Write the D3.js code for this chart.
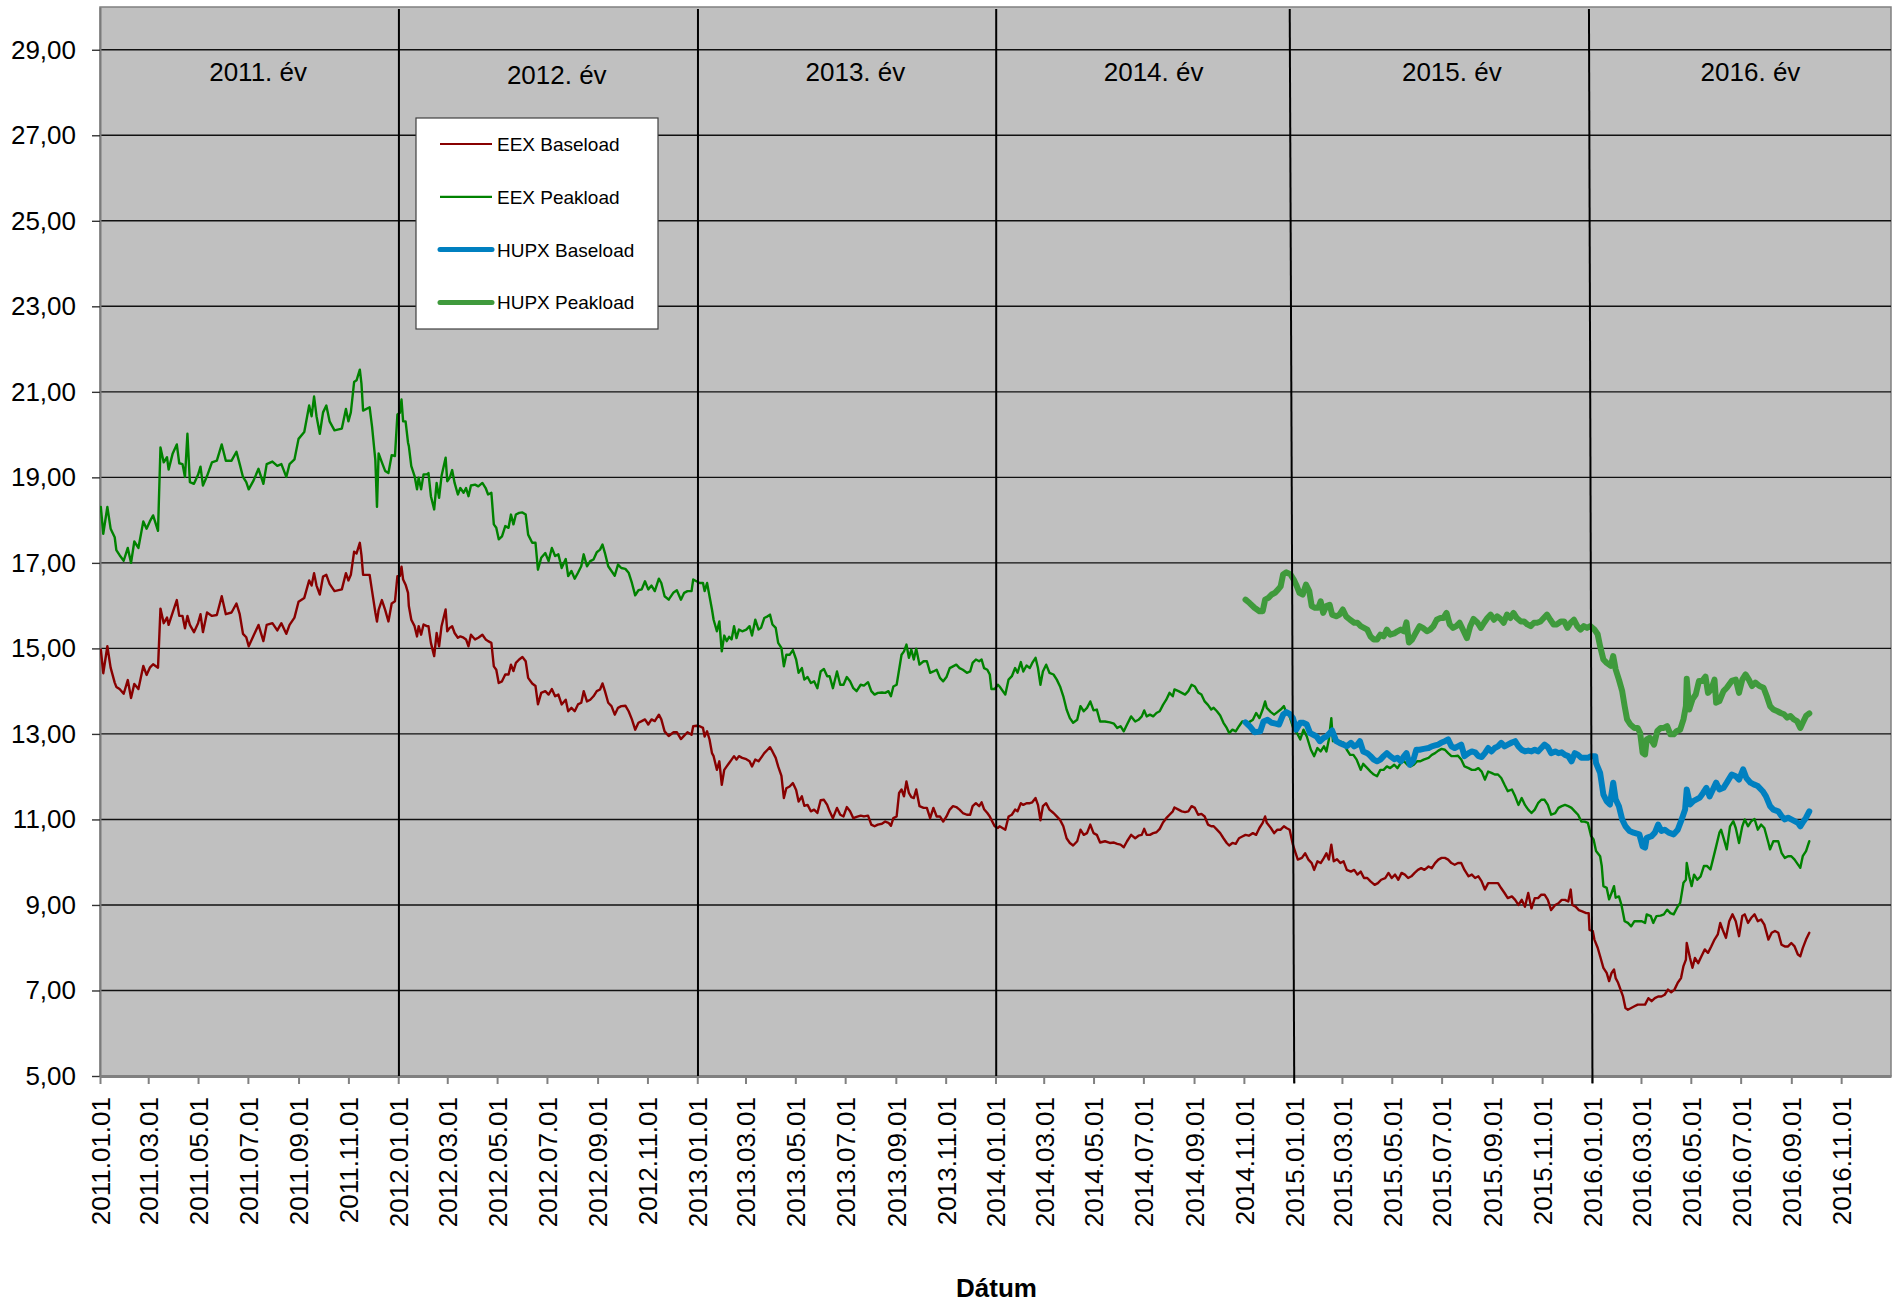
<!DOCTYPE html>
<html>
<head>
<meta charset="utf-8">
<script src="https://cdn.jsdelivr.net/npm/d3@7"></script>
<style>
    body { margin: 0; background: #ffffff; }
    svg { display: block; font-family: "Liberation Sans", Arial, Helvetica, sans-serif; }
</style>
</head>
<body>
<div id="chart"></div>
<script>
// points are [days since 2011.01.01, price]
var eexBaseload = [
    [1,14.97],[4,14.42],[9,15.05],[13,14.55],[18,14.2],[20,14.1],[24,14.05],[29,13.94],[34,14.26],[38,13.84],[42,14.17],[47,14.05],[53,14.59],[57,14.38],[61,14.55],[65,14.63],[71,14.55],[74,15.93],[78,15.59],[82,15.72],[84,15.55],[89,15.84],[94,16.13],[97,15.76],[101,15.76],[104,15.47],[107,15.76],[110,15.55],[115,15.38],[120,15.59],[123,15.8],[126,15.38],[131,15.84],[137,15.76],[143,15.78],[149,16.22],[154,15.8],[161,15.84],[167,16.05],[171,15.8],[175,15.34],[179,15.26],[182,15.05],[188,15.3],[194,15.55],[200,15.17],[204,15.55],[211,15.59],[217,15.42],[222,15.59],[228,15.34],[232,15.55],[238,15.72],[243,16.09],[250,16.18],[256,16.59],[259,16.47],[262,16.76],[265,16.47],[269,16.26],[273,16.68],[277,16.72],[281,16.51],[287,16.34],[296,16.38],[301,16.76],[304,16.59],[307,16.72],[311,17.26],[314,17.22],[318,17.47],[320,17.18],[322,16.72],[330,16.72],[333,16.34],[337,15.84],[339,15.63],[341,15.9],[345,16.13],[349,15.9],[353,15.63],[357,16.05],
    [361,16.1],[364,16.69],[367,16.69],[369,16.91],[371,16.61],[374,16.49],[377,16.3],[378,15.99],[381,15.67],[385,15.52],[388,15.28],[390,15.52],[393,15.32],[396,15.56],[400,15.52],[402,15.52],[405,15.13],[409,14.82],[412,15.36],[415,15.05],[418,15.52],[423,15.91],[425,15.4],[428,15.48],[431,15.52],[434,15.36],[438,15.25],[441,15.28],[445,15.25],[448,15.21],[451,15.05],[454,15.32],[459,15.21],[463,15.25],[468,15.32],[472,15.21],[475,15.17],[479,15.13],[482,14.58],[485,14.5],[488,14.19],[492,14.23],[496,14.39],[500,14.39],[503,14.62],[506,14.47],[509,14.66],[513,14.74],[517,14.8],[521,14.7],[524,14.31],[529,14.18],[533,14.12],[536,13.69],[540,13.96],[545,14.0],[549,13.92],[553,14.05],[557,13.88],[561,13.92],[565,13.69],[570,13.8],[573,13.53],[577,13.61],[581,13.53],[585,13.69],[589,13.73],[592,14.0],[596,13.76],[600,13.8],[604,13.88],[608,14.0],[612,14.04],[615,14.18],[618,14.0],[622,13.73],[626,13.65],[630,13.45],[634,13.61],[638,13.65],[643,13.66],[647,13.53],[651,13.34],[655,13.1],[659,13.26],[663,13.3],[667,13.34],[671,13.22],[675,13.34],[679,13.3],[684,13.45],[687,13.34],[691,13.06],[696,12.95],[702,13.04],[706,13.04],[711,12.88],[715,12.96],[719,13.04],[724,12.98],[726,13.18],[730,13.19],[734,13.18],[738,13.14],
    [740,12.94],[743,13.06],[746,12.87],[749,12.55],[751,12.48],[755,12.16],[758,12.36],[761,11.81],[764,12.16],[767,12.24],[770,12.32],[773,12.4],[776,12.48],[779,12.4],[782,12.48],[786,12.44],[791,12.41],[795,12.36],[798,12.24],[802,12.4],[806,12.36],[809,12.44],[813,12.55],[817,12.63],[820,12.69],[823,12.59],[827,12.44],[830,12.24],[834,12.02],[837,11.5],[840,11.73],[844,11.77],[848,11.85],[852,11.69],[855,11.42],[859,11.54],[862,11.32],[866,11.34],[870,11.19],[874,11.23],[878,11.15],[882,11.45],[886,11.46],[890,11.34],[893,11.19],[897,11.03],[902,11.27],[906,11.11],[910,11.07],[914,11.29],[918,11.19],[922,11.03],[926,11.06],[931,11.09],[935,11.07],[940,11.09],[944,10.88],[948,10.84],[952,10.88],[957,10.9],[961,10.95],[965,10.92],[968,10.85],[971,11.03],[975,11.07],[978,11.62],[981,11.7],[984,11.54],[987,11.89],[990,11.62],[993,11.52],[996,11.5],[999,11.7],[1003,11.31],[1008,11.27],[1012,11.27],[1016,11.03],[1020,11.27],[1024,11.07],[1028,11.07],[1032,10.95],[1036,11.07],[1040,11.23],[1044,11.31],[1048,11.29],[1052,11.23],[1056,11.15],[1061,11.11],[1065,11.11],[1068,11.31],[1072,11.38],[1076,11.31],[1079,11.4],[1082,11.24],[1086,11.15],[1089,11.07],[1091,10.99],[1095,10.84],[1099,10.8],
    [1101,10.84],[1108,10.76],[1112,11.07],[1116,11.11],[1120,11.23],[1123,11.19],[1127,11.38],[1130,11.34],[1134,11.38],[1138,11.38],[1141,11.4],[1145,11.5],[1148,11.34],[1151,10.98],[1154,11.31],[1158,11.38],[1162,11.23],[1167,11.15],[1171,11.07],[1175,10.99],[1179,10.84],[1183,10.56],[1187,10.45],[1191,10.39],[1196,10.49],[1200,10.76],[1204,10.64],[1208,10.68],[1212,10.88],[1216,10.68],[1220,10.64],[1224,10.46],[1230,10.49],[1236,10.45],[1241,10.46],[1245,10.43],[1249,10.41],[1253,10.35],[1257,10.49],[1262,10.64],[1267,10.56],[1271,10.62],[1275,10.64],[1278,10.78],[1281,10.64],[1285,10.64],[1289,10.68],[1293,10.7],[1297,10.78],[1301,10.93],[1305,11.03],[1309,11.11],[1313,11.19],[1315,11.28],[1320,11.23],[1324,11.19],[1328,11.17],[1332,11.19],[1336,11.31],[1340,11.27],[1344,11.11],[1348,11.13],[1352,11.07],[1356,10.88],[1360,10.84],[1363,10.84],[1367,10.76],[1371,10.68],[1375,10.56],[1379,10.45],[1382,10.39],[1386,10.45],[1390,10.43],[1394,10.56],[1398,10.6],[1402,10.64],[1406,10.62],[1411,10.68],[1415,10.64],[1419,10.8],[1423,10.92],[1426,11.07],[1428,10.92],[1433,10.8],[1437,10.68],[1441,10.76],[1445,10.76],[1449,10.84],[1452,10.8],[1456,10.76],
    [1460,10.41],[1462,10.29],[1466,10.06],[1471,10.1],[1475,10.21],[1479,10.06],[1483,9.98],[1486,9.82],[1490,10.02],[1494,9.98],[1498,10.1],[1501,10.21],[1504,10.06],[1507,10.41],[1510,10.02],[1514,10.07],[1518,9.98],[1522,10.02],[1526,9.82],[1531,9.78],[1535,9.82],[1539,9.71],[1543,9.78],[1547,9.63],[1551,9.63],[1555,9.55],[1560,9.47],[1564,9.51],[1568,9.59],[1573,9.63],[1577,9.75],[1581,9.63],[1585,9.71],[1589,9.59],[1593,9.75],[1597,9.71],[1601,9.63],[1605,9.67],[1609,9.75],[1613,9.82],[1617,9.86],[1621,9.82],[1626,9.9],[1630,9.86],[1634,9.98],[1638,10.06],[1642,10.1],[1646,10.1],[1650,10.06],[1654,9.98],[1658,9.94],[1662,9.98],[1666,9.98],[1670,9.82],[1675,9.67],[1679,9.71],[1683,9.63],[1687,9.67],[1691,9.55],[1695,9.36],[1699,9.51],[1703,9.51],[1707,9.51],[1711,9.51],[1715,9.39],[1719,9.28],[1723,9.16],[1728,9.2],[1732,9.12],[1736,9.0],[1740,9.12],[1744,8.96],[1748,9.28],[1752,8.92],[1756,9.16],[1760,9.16],[1764,9.24],[1768,9.24],[1772,9.12],[1776,8.88],[1781,9.0],[1785,9.04],[1789,9.12],[1793,9.12],[1797,9.08],[1800,9.36],[1802,9.0],[1806,8.96],[1810,8.88],[1814,8.85],[1819,8.81],[1822,8.81],
    [1823,8.42],[1827,8.39],[1829,8.19],[1833,8.0],[1836,7.8],[1840,7.53],[1844,7.41],[1847,7.22],[1850,7.41],[1853,7.49],[1855,7.29],[1858,7.18],[1861,7.02],[1864,6.86],[1867,6.59],[1870,6.55],[1874,6.59],[1878,6.63],[1882,6.67],[1887,6.67],[1891,6.67],[1895,6.82],[1899,6.75],[1903,6.82],[1907,6.86],[1911,6.86],[1915,6.9],[1919,7.02],[1923,6.96],[1927,7.02],[1931,7.18],[1935,7.29],[1938,7.57],[1941,7.72],[1942,8.11],[1946,7.76],[1949,7.53],[1952,7.76],[1956,7.64],[1960,7.8],[1964,7.96],[1968,7.88],[1972,8.03],[1976,8.19],[1980,8.31],[1983,8.58],[1986,8.42],[1990,8.23],[1994,8.62],[1998,8.78],[2002,8.62],[2006,8.27],[2010,8.74],[2013,8.78],[2017,8.58],[2021,8.7],[2025,8.78],[2029,8.62],[2033,8.66],[2037,8.54],[2042,8.19],[2046,8.35],[2050,8.39],[2054,8.35],[2058,8.07],[2062,8.03],[2066,8.03],[2070,8.11],[2074,8.03],[2078,7.84],[2081,7.8],[2084,7.99],[2088,8.19],[2092,8.35]
];

var eexPeakload = [
    [1,18.31],[4,17.68],[9,18.31],[13,17.8],[18,17.6],[20,17.3],[24,17.18],[29,17.05],[34,17.35],[38,17.0],[42,17.5],[47,17.35],[53,17.97],[57,17.8],[61,17.97],[65,18.11],[71,17.75],[74,19.7],[78,19.35],[82,19.47],[84,19.18],[89,19.56],[94,19.77],[97,19.33],[101,19.31],[104,19.01],[107,20.02],[110,18.89],[115,18.85],[120,19.06],[123,19.25],[126,18.81],[131,19.03],[137,19.35],[143,19.39],[149,19.77],[154,19.39],[161,19.39],[167,19.6],[171,19.31],[175,19.01],[179,18.89],[182,18.72],[188,18.93],[194,19.2],[200,18.85],[204,19.31],[211,19.37],[217,19.27],[222,19.31],[228,19.01],[232,19.31],[238,19.42],[243,19.9],[250,20.06],[256,20.68],[259,20.43],[262,20.89],[265,20.43],[269,20.02],[273,20.52],[277,20.68],[281,20.31],[287,20.1],[296,20.14],[301,20.6],[304,20.31],[307,20.52],[311,21.23],[314,21.27],[318,21.52],[320,21.19],[322,20.56],[330,20.64],[333,20.18],[337,19.4],[339,18.31],[341,19.56],[345,19.35],[349,19.15],[353,19.1],[357,19.52],
    [361,19.5],[364,20.47],[367,20.51],[369,20.82],[371,20.31],[374,20.31],[377,19.81],[378,19.73],[381,19.26],[385,19.03],[388,18.72],[390,18.99],[393,18.72],[396,19.07],[400,19.07],[402,19.1],[405,18.56],[409,18.25],[412,18.87],[415,18.52],[418,19.03],[423,19.46],[425,18.91],[428,18.99],[431,19.17],[434,18.87],[438,18.6],[441,18.75],[445,18.64],[448,18.75],[451,18.56],[454,18.81],[459,18.83],[463,18.79],[468,18.87],[472,18.75],[475,18.6],[479,18.64],[482,17.9],[485,17.82],[488,17.55],[492,17.62],[496,17.86],[500,17.82],[503,18.13],[506,17.9],[509,18.13],[513,18.17],[517,18.18],[521,18.13],[524,17.66],[529,17.47],[533,17.47],[536,16.84],[540,17.12],[545,17.23],[549,17.04],[553,17.35],[557,17.16],[561,17.2],[565,16.88],[570,17.09],[573,16.69],[577,16.81],[581,16.63],[585,16.77],[589,16.92],[592,17.2],[596,16.92],[600,17.04],[604,17.08],[608,17.25],[612,17.31],[615,17.43],[618,17.23],[622,16.92],[626,16.81],[630,16.7],[634,16.96],[638,16.88],[643,16.86],[647,16.77],[651,16.53],[655,16.24],[659,16.36],[663,16.38],[667,16.57],[671,16.38],[675,16.47],[679,16.34],[684,16.63],[687,16.53],[691,16.22],[696,16.14],[702,16.31],[706,16.36],[711,16.14],[715,16.3],[719,16.34],[724,16.34],[726,16.61],[730,16.57],[734,16.53],[738,16.53],
    [740,16.34],[743,16.53],[746,16.22],[749,15.91],[751,15.67],[755,15.4],[758,15.63],[761,14.93],[764,15.3],[767,15.17],[770,15.27],[773,15.21],[776,15.52],[779,15.24],[782,15.44],[786,15.4],[791,15.44],[795,15.52],[798,15.3],[802,15.67],[806,15.44],[809,15.48],[813,15.71],[817,15.75],[820,15.79],[823,15.56],[827,15.48],[830,15.13],[834,15.01],[837,14.58],[840,14.85],[844,14.85],[848,14.96],[852,14.74],[855,14.43],[859,14.54],[862,14.27],[866,14.33],[870,14.19],[874,14.23],[878,14.07],[882,14.46],[886,14.52],[890,14.35],[893,14.35],[897,14.07],[902,14.46],[906,14.15],[910,14.15],[914,14.33],[918,14.23],[922,14.07],[926,14.0],[931,14.15],[935,14.13],[940,14.21],[944,14.0],[948,13.92],[952,13.96],[957,13.97],[961,13.96],[965,14.0],[968,13.88],[971,14.11],[975,14.15],[978,14.5],[981,14.85],[984,14.93],[987,15.09],[990,14.78],[993,14.97],[996,14.74],[999,14.99],[1003,14.62],[1008,14.7],[1012,14.7],[1016,14.43],[1020,14.46],[1024,14.5],[1028,14.31],[1032,14.23],[1036,14.33],[1040,14.54],[1044,14.58],[1048,14.62],[1052,14.54],[1056,14.5],[1061,14.43],[1065,14.46],[1068,14.66],[1072,14.74],[1076,14.7],[1079,14.74],[1082,14.54],[1086,14.5],[1089,14.39],[1091,14.05],[1095,14.05],[1099,14.15],
    [1101,14.11],[1108,13.92],[1112,14.27],[1116,14.35],[1120,14.54],[1123,14.43],[1127,14.68],[1130,14.46],[1134,14.6],[1138,14.54],[1141,14.66],[1145,14.78],[1148,14.54],[1151,14.15],[1154,14.46],[1158,14.62],[1162,14.43],[1167,14.39],[1171,14.27],[1175,14.11],[1179,13.88],[1183,13.57],[1187,13.37],[1191,13.26],[1196,13.33],[1200,13.65],[1204,13.53],[1208,13.61],[1212,13.76],[1216,13.55],[1220,13.57],[1224,13.29],[1230,13.29],[1236,13.27],[1241,13.24],[1245,13.14],[1249,13.18],[1253,13.06],[1257,13.22],[1262,13.41],[1267,13.29],[1271,13.33],[1275,13.41],[1278,13.55],[1281,13.41],[1285,13.45],[1289,13.41],[1293,13.49],[1297,13.53],[1301,13.68],[1305,13.8],[1309,13.96],[1313,13.88],[1315,14.04],[1320,14.0],[1324,13.96],[1328,13.92],[1332,14.0],[1336,14.15],[1340,14.11],[1344,13.97],[1348,13.92],[1352,13.76],[1356,13.68],[1360,13.57],[1363,13.61],[1367,13.53],[1371,13.43],[1375,13.26],[1379,13.14],[1382,13.02],[1386,13.1],[1390,13.06],[1394,13.18],[1398,13.29],[1402,13.29],[1406,13.27],[1411,13.33],[1415,13.49],[1419,13.37],[1423,13.57],[1426,13.76],[1428,13.61],[1433,13.51],[1437,13.45],[1441,13.51],[1445,13.57],[1449,13.65],[1452,13.49],[1456,13.41],
    [1461,13.1],[1465,13.02],[1469,12.87],[1473,13.1],[1477,12.94],[1482,12.63],[1486,12.48],[1490,12.67],[1494,12.59],[1498,12.71],[1501,12.59],[1504,12.87],[1507,13.37],[1509,12.83],[1513,12.87],[1517,12.83],[1522,12.79],[1526,12.63],[1530,12.51],[1534,12.51],[1538,12.4],[1543,12.16],[1546,12.3],[1551,12.2],[1555,12.12],[1559,12.05],[1563,12.01],[1567,12.16],[1571,12.16],[1575,12.24],[1579,12.2],[1584,12.28],[1588,12.2],[1592,12.32],[1596,12.36],[1600,12.28],[1604,12.24],[1608,12.28],[1612,12.36],[1616,12.36],[1620,12.4],[1626,12.44],[1630,12.51],[1634,12.55],[1638,12.61],[1642,12.65],[1646,12.63],[1650,12.55],[1654,12.48],[1658,12.48],[1662,12.49],[1666,12.4],[1670,12.24],[1675,12.2],[1679,12.16],[1683,12.16],[1687,12.2],[1691,12.12],[1695,11.93],[1699,12.12],[1703,12.09],[1707,12.05],[1711,12.05],[1715,11.97],[1719,11.81],[1723,11.66],[1728,11.7],[1732,11.54],[1736,11.34],[1740,11.5],[1744,11.34],[1748,11.23],[1752,11.15],[1756,11.23],[1760,11.38],[1764,11.46],[1768,11.46],[1772,11.34],[1776,11.11],[1781,11.15],[1785,11.27],[1789,11.31],[1793,11.34],[1797,11.31],[1801,11.27],[1805,11.19],[1809,11.11],[1813,10.95],[1817,10.95],[1821,10.92],
    [1825,10.61],[1828,10.53],[1831,10.26],[1836,10.14],[1838,9.91],[1840,9.44],[1844,9.4],[1847,9.13],[1850,9.28],[1853,9.44],[1855,9.17],[1859,9.2],[1862,9.01],[1866,8.62],[1870,8.58],[1874,8.5],[1878,8.62],[1882,8.62],[1887,8.62],[1891,8.58],[1893,8.78],[1898,8.74],[1901,8.58],[1905,8.74],[1910,8.75],[1914,8.78],[1918,8.89],[1922,8.81],[1926,8.78],[1930,8.93],[1934,9.05],[1938,9.52],[1941,9.59],[1942,9.98],[1945,9.67],[1948,9.44],[1951,9.71],[1955,9.59],[1959,9.67],[1963,9.91],[1967,9.91],[1971,9.83],[1974,10.06],[1978,10.37],[1982,10.69],[1984,10.76],[1987,10.57],[1991,10.3],[1995,10.84],[1999,10.96],[2002,10.8],[2006,10.45],[2010,10.84],[2013,11.0],[2017,10.84],[2021,10.96],[2025,11.01],[2029,10.76],[2033,10.88],[2037,10.8],[2042,10.45],[2044,10.3],[2048,10.49],[2054,10.49],[2058,10.22],[2062,10.1],[2066,10.14],[2070,10.14],[2074,10.06],[2078,9.95],[2081,9.87],[2084,10.14],[2088,10.26],[2092,10.49]
];

var hupxBaseload = [
    [1402,13.27],[1407,13.18],[1413,13.04],[1420,13.06],[1424,13.29],[1429,13.33],[1434,13.26],[1439,13.24],[1443,13.22],[1448,13.45],[1452,13.51],[1456,13.47],[1460,13.37],[1464,13.1],[1469,13.26],[1473,13.26],[1477,13.22],[1481,13.02],[1485,12.98],[1489,12.94],[1493,12.83],[1497,12.9],[1501,12.94],[1505,13.02],[1508,13.08],[1513,12.83],[1517,12.79],[1522,12.75],[1526,12.71],[1531,12.79],[1535,12.71],[1539,12.75],[1542,12.83],[1546,12.59],[1551,12.55],[1555,12.48],[1559,12.4],[1563,12.36],[1567,12.4],[1571,12.48],[1575,12.55],[1579,12.48],[1584,12.41],[1588,12.44],[1592,12.36],[1596,12.48],[1599,12.55],[1603,12.28],[1607,12.36],[1611,12.63],[1615,12.63],[1620,12.65],[1626,12.67],[1630,12.71],[1634,12.73],[1638,12.75],[1642,12.8],[1646,12.83],[1650,12.87],[1654,12.71],[1658,12.67],[1662,12.71],[1666,12.75],[1670,12.48],[1675,12.55],[1679,12.59],[1683,12.57],[1687,12.48],[1691,12.46],[1695,12.55],[1699,12.67],[1703,12.59],[1707,12.67],[1711,12.71],[1715,12.79],[1719,12.71],[1723,12.75],[1728,12.8],[1732,12.83],[1736,12.71],[1740,12.63],[1744,12.59],[1748,12.61],[1752,12.59],[1756,12.63],[1760,12.59],[1764,12.67],[1768,12.75],[1772,12.69],[1776,12.55],[1781,12.59],[1785,12.55],[1789,12.57],[1793,12.51],[1797,12.48],[1801,12.36],[1805,12.55],[1809,12.51],[1813,12.44],[1817,12.44],[1821,12.44],[1825,12.48],[1830,12.48],
    [1831,12.32],[1836,12.09],[1840,11.58],[1844,11.43],[1848,11.35],[1852,11.86],[1855,11.47],[1859,11.31],[1863,11.0],[1867,10.84],[1872,10.73],[1877,10.69],[1884,10.65],[1888,10.37],[1891,10.34],[1893,10.57],[1899,10.61],[1903,10.69],[1907,10.88],[1911,10.73],[1915,10.76],[1920,10.69],[1926,10.65],[1931,10.76],[1935,10.96],[1940,11.23],[1942,11.7],[1946,11.35],[1950,11.43],[1954,11.47],[1958,11.51],[1962,11.62],[1966,11.74],[1970,11.54],[1974,11.7],[1978,11.86],[1982,11.7],[1987,11.74],[1991,11.86],[1997,12.05],[2002,12.01],[2006,11.93],[2011,12.17],[2015,11.97],[2020,11.86],[2024,11.82],[2029,11.78],[2035,11.66],[2039,11.54],[2044,11.31],[2048,11.23],[2054,11.19],[2058,11.08],[2062,11.0],[2066,11.04],[2070,11.0],[2074,10.96],[2078,10.92],[2081,10.84],[2085,10.96],[2088,11.04],[2092,11.19]
];

var hupxPeakload = [
    [1402,16.14],[1407,16.06],[1413,15.95],[1419,15.87],[1423,15.87],[1426,16.14],[1430,16.18],[1434,16.26],[1438,16.3],[1442,16.38],[1445,16.45],[1448,16.73],[1452,16.78],[1457,16.73],[1461,16.61],[1464,16.49],[1468,16.3],[1472,16.26],[1476,16.49],[1480,16.34],[1483,15.99],[1487,15.95],[1491,15.95],[1494,16.1],[1497,15.83],[1501,15.99],[1505,16.02],[1508,15.79],[1513,15.75],[1517,15.79],[1521,15.91],[1525,15.75],[1530,15.67],[1535,15.6],[1539,15.6],[1543,15.52],[1547,15.48],[1551,15.44],[1555,15.28],[1559,15.21],[1563,15.21],[1567,15.32],[1571,15.28],[1575,15.44],[1579,15.32],[1584,15.35],[1588,15.4],[1592,15.44],[1596,15.4],[1599,15.61],[1602,15.14],[1606,15.21],[1610,15.35],[1615,15.52],[1619,15.48],[1624,15.4],[1628,15.44],[1632,15.52],[1636,15.67],[1640,15.71],[1644,15.71],[1648,15.83],[1652,15.56],[1656,15.48],[1660,15.52],[1664,15.6],[1669,15.4],[1673,15.24],[1677,15.52],[1681,15.69],[1686,15.6],[1690,15.48],[1694,15.6],[1698,15.71],[1702,15.79],[1706,15.67],[1710,15.75],[1714,15.69],[1718,15.6],[1722,15.79],[1726,15.71],[1730,15.83],[1734,15.71],[1739,15.63],[1743,15.63],[1747,15.56],[1751,15.52],[1755,15.6],[1759,15.6],[1763,15.63],[1767,15.71],[1771,15.79],[1775,15.67],[1779,15.56],[1783,15.56],[1788,15.63],[1792,15.63],[1796,15.48],[1800,15.6],[1804,15.67],[1808,15.52],[1812,15.44],[1816,15.52],[1820,15.48],[1824,15.52],
    [1829,15.44],[1833,15.33],[1836,15.05],[1840,14.74],[1844,14.66],[1849,14.59],[1852,14.82],[1855,14.51],[1859,14.27],[1863,14.0],[1866,13.65],[1869,13.34],[1873,13.22],[1878,13.14],[1882,13.14],[1885,13.02],[1888,12.56],[1891,12.52],[1893,12.87],[1897,12.91],[1902,12.75],[1906,13.07],[1910,13.14],[1914,13.14],[1918,13.18],[1922,12.99],[1926,12.99],[1930,13.07],[1934,13.1],[1938,13.34],[1941,13.65],[1942,14.29],[1945,13.57],[1949,13.81],[1953,13.92],[1957,14.24],[1961,14.24],[1965,14.34],[1968,13.96],[1972,14.04],[1976,14.27],[1978,13.73],[1982,13.77],[1987,14.0],[1991,14.08],[1997,14.24],[2002,14.27],[2006,13.96],[2010,14.27],[2014,14.39],[2018,14.27],[2022,14.12],[2026,14.2],[2031,14.12],[2036,14.08],[2040,13.88],[2044,13.65],[2048,13.57],[2053,13.53],[2057,13.49],[2061,13.46],[2065,13.38],[2069,13.42],[2073,13.34],[2077,13.3],[2081,13.14],[2084,13.26],[2088,13.42],[2092,13.48]
];

var seriesNames = ["EEX Baseload", "EEX Peakload", "HUPX Baseload", "HUPX Peakload"];
var years = [2011, 2012, 2013, 2014, 2015, 2016];
var yearLabels = ["2011. év", "2012. év", "2013. év", "2014. év", "2015. év", "2016. év"];
var yTickValues = [5, 7, 9, 11, 13, 15, 17, 19, 21, 23, 25, 27, 29];
var xTitle = "Dátum";

var width = 1892;
var height = 1306;
var plot = {left: 100, top: 7, right: 1891, bottom: 1076};

var startDate = new Date(2011, 0, 1);
function toDate(d) { return d3.timeDay.offset(startDate, d); }

var x = d3.scaleTime()
    .domain([startDate, new Date(2017, 0, 1)])
    .range([plot.left, plot.right]);

var y = d3.scaleLinear()
    .domain([5, 30])
    .range([plot.bottom, plot.top]);

var huLocale = d3.formatLocale({decimal: ",", thousands: " ", grouping: [3], currency: ["", ""]});
var yFormat = huLocale.format(".2f");
var xFormat = d3.timeFormat("%Y.%m.%d");

var svg = d3.select("#chart")
    .append("svg")
    .attr("width", width)
    .attr("height", height);

svg.append("rect")
    .attr("width", width)
    .attr("height", height)
    .attr("fill", "#ffffff");

// plot area
svg.append("rect")
    .attr("x", plot.left)
    .attr("y", plot.top)
    .attr("width", plot.right - plot.left)
    .attr("height", plot.bottom - plot.top)
    .attr("fill", "#c0c0c0")
    .attr("stroke", "#808080")
    .attr("stroke-width", 1.5);

svg.append("clipPath")
    .attr("id", "plotclip")
    .append("rect")
    .attr("x", plot.left)
    .attr("y", plot.top)
    .attr("width", plot.right - plot.left)
    .attr("height", plot.bottom - plot.top);

// horizontal grid
svg.append("g")
    .selectAll("line")
    .data(yTickValues.filter(function(v) { return v > 5; }))
    .enter()
    .append("line")
    .attr("x1", plot.left)
    .attr("x2", plot.right)
    .attr("y1", function(v) { return y(v); })
    .attr("y2", function(v) { return y(v); })
    .attr("stroke", "#111111")
    .attr("stroke-width", 1.4);

// y axis
var yAxis = d3.axisLeft(y)
    .tickValues(yTickValues)
    .tickSize(8)
    .tickSizeOuter(0)
    .tickPadding(16)
    .tickFormat(yFormat);

var gy = svg.append("g")
    .attr("transform", "translate(" + plot.left + ",0)")
    .call(yAxis);
gy.attr("font-family", null).attr("font-size", null);
gy.select(".domain").attr("stroke", "#7a7a7a").attr("stroke-width", 2);
gy.selectAll(".tick line").attr("stroke", "#333333").attr("stroke-width", 1.4);
gy.selectAll(".tick text")
    .attr("fill", "#000000")
    .style("font-size", "26px");

// x axis
var xTickValues = d3.timeMonth.every(2).range(startDate, new Date(2016, 11, 31));

var xAxis = d3.axisBottom(x)
    .tickValues(xTickValues)
    .tickSize(8)
    .tickSizeOuter(0)
    .tickFormat(xFormat);

var gx = svg.append("g")
    .attr("transform", "translate(0," + plot.bottom + ")")
    .call(xAxis);
gx.attr("font-family", null).attr("font-size", null);
gx.select(".domain").attr("stroke", "#808080").attr("stroke-width", 3);
gx.selectAll(".tick line").attr("stroke", "#808080").attr("stroke-width", 2);
gx.selectAll(".tick text")
    .attr("transform", "rotate(-90)")
    .attr("x", -21)
    .attr("y", 0)
    .attr("dy", "0.36em")
    .attr("fill", "#000000")
    .style("text-anchor", "end")
    .style("font-size", "26px");

// series
var line = d3.line()
    .x(function(d) { return x(toDate(d[0])); })
    .y(function(d) { return y(d[1]); });

var series = [
    {name: seriesNames[0], values: eexBaseload, color: "#880000", width: 2.4},
    {name: seriesNames[1], values: eexPeakload, color: "#008200", width: 2.4},
    {name: seriesNames[2], values: hupxBaseload, color: "#0080c0", width: 6},
    {name: seriesNames[3], values: hupxPeakload, color: "#3f9a3c", width: 6}
];

svg.append("g")
    .attr("clip-path", "url(#plotclip)")
    .selectAll("path")
    .data(series)
    .enter()
    .append("path")
    .attr("d", function(s) { return line(s.values); })
    .attr("fill", "none")
    .attr("stroke", function(s) { return s.color; })
    .attr("stroke-width", function(s) { return s.width; })
    .attr("stroke-linejoin", "round")
    .attr("stroke-linecap", "round");

// year separators (the 2015/2016 ones were drawn slightly slanted)
var yearLean = {2015: [-4, 0.5], 2016: [-3, 0.5]};
svg.append("g")
    .selectAll("line")
    .data(years.slice(1))
    .enter()
    .append("line")
    .attr("x1", function(yr) { return x(new Date(yr, 0, 1)) + (yearLean[yr] ? yearLean[yr][0] : 0.7); })
    .attr("x2", function(yr) { return x(new Date(yr, 0, 1)) + (yearLean[yr] ? yearLean[yr][1] : 0.7); })
    .attr("y1", plot.top + 2)
    .attr("y2", function(yr) { return yearLean[yr] ? plot.bottom + 7 : plot.bottom; })
    .attr("stroke", "#000000")
    .attr("stroke-width", 2);

svg.append("g")
    .selectAll("text")
    .data(years)
    .enter()
    .append("text")
    .attr("x", function(yr, i) {
        return (x(new Date(yr, 0, 1)) + x(new Date(yr + 1, 0, 1))) / 2 + 9;
    })
    .attr("y", function(yr) { return yr === 2012 ? 84 : 81; })
    .attr("text-anchor", "middle")
    .attr("fill", "#000000")
    .style("font-size", "26px")
    .text(function(yr, i) { return yearLabels[i]; });

// legend
var legend = svg.append("g");
legend.append("rect")
    .attr("x", 416)
    .attr("y", 118)
    .attr("width", 242)
    .attr("height", 211)
    .attr("fill", "#ffffff")
    .attr("stroke", "#404040")
    .attr("stroke-width", 1.2);

var items = legend.selectAll("g.item")
    .data(series)
    .enter()
    .append("g")
    .attr("class", "item")
    .attr("transform", function(s, i) { return "translate(0," + (144 + i * 52.8) + ")"; });

items.append("line")
    .attr("x1", 440)
    .attr("x2", 492)
    .attr("y1", 0)
    .attr("y2", 0)
    .attr("stroke", function(s) { return s.color; })
    .attr("stroke-width", function(s) { return s.width > 3 ? 5 : 2.2; })
    .attr("stroke-linecap", function(s) { return s.width > 3 ? "round" : "butt"; });

items.append("text")
    .attr("x", 497)
    .attr("y", 7)
    .attr("fill", "#000000")
    .style("font-size", "19px")
    .text(function(s) { return s.name; });

svg.append("text")
    .attr("x", (plot.left + plot.right) / 2 + 1)
    .attr("y", 1297)
    .attr("text-anchor", "middle")
    .attr("fill", "#000000")
    .style("font-size", "26px")
    .style("font-weight", "bold")
    .text(xTitle);
</script>
</body>
</html>
